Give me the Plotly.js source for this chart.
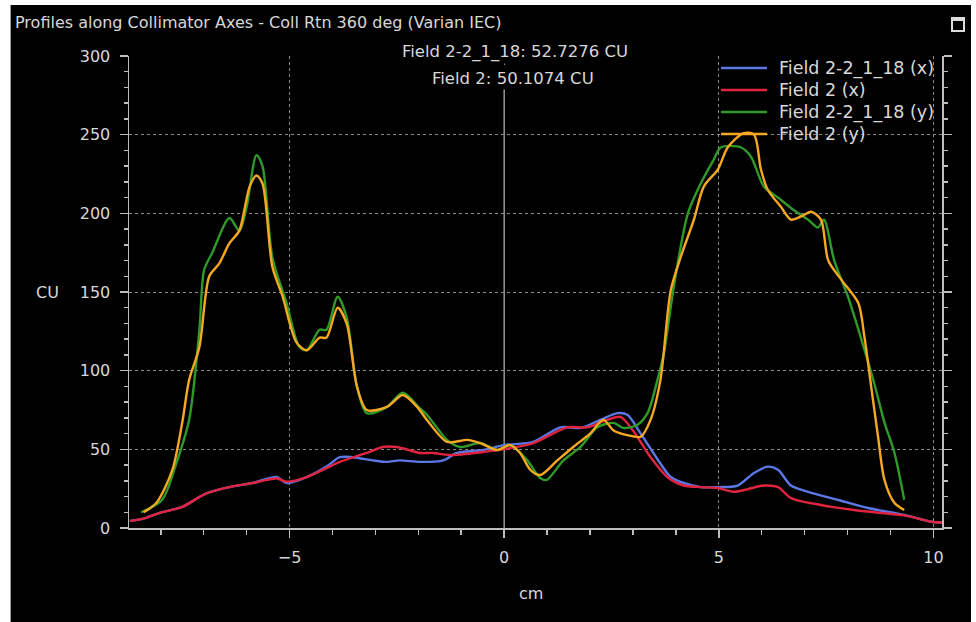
<!DOCTYPE html>
<html>
<head>
<meta charset="utf-8">
<script src="https://cdn.plot.ly/plotly-3.0.1.min.js"></script>
<style>
  html, body { margin:0; padding:0; background:#ffffff; width:976px; height:622px; overflow:hidden; }
  #plot { position:absolute; left:10px; top:5px; width:960px; height:617px; background:#000; border-left:1px solid #999; box-sizing:border-box; }
  #icon { position:absolute; left:951px; top:17px; width:10px; height:9px; border:2px solid #ddd; border-top-width:4px; }
</style>
</head>
<body>
<div id="plot"></div>
<div id="icon"></div>
<script>
// ---- data ----
const seriesNames = ["Field 2-2_1_18 (x)", "Field 2 (x)", "Field 2-2_1_18 (y)", "Field 2 (y)"];
const seriesColors = ["#5b78e6", "#e0243f", "#2f9a2a", "#f6a823"];

const xBlue = [-8.72,-8.4,-8.04,-7.5,-6.94,-6.4,-5.86,-5.3,-5.07,-4.6,-4.14,-3.83,-3.53,-3.06,-2.73,-2.43,-1.96,-1.42,-1.1,-0.49,0,0.68,1.31,1.78,2.24,2.64,2.87,3.18,3.64,3.88,4.18,4.58,4.98,5.44,5.82,6.14,6.38,6.68,7.08,7.78,8.48,9.32,9.95,10.2];
const yBlue = [4.5,6,9.5,13.4,22,26,28.6,32.4,28.6,32.4,39,45,45,43,42,43,42,43,47.7,49.6,52.7,54.7,64,63.6,68.7,73,72,60,41,32.4,28.6,26,26,27,35,39,37,27,23,17.8,12.7,8.3,4,3.5];

const xRed = [-8.72,-8.4,-8.04,-7.5,-6.94,-6.4,-5.86,-5.3,-5.07,-4.6,-4.14,-3.83,-3.2,-2.83,-2.5,-1.96,-1.66,-1.26,-0.49,0,0.68,1.47,1.94,2.4,2.71,3.0,3.41,3.8,4.18,4.58,4.98,5.35,6.05,6.38,6.68,7.38,8.15,8.8,9.32,9.95,10.2];
const yRed = [4.5,6,9.5,13.4,22,26,28.6,31.5,29.5,32.4,38,42,47.7,51.5,51.5,47.7,47.7,46.4,48.3,50.1,54,64,64,68.7,70.6,62,45,32.4,27,26,25.4,23,27,26,19,14.6,11.4,9.5,8,4,3.5];

const xGreen = [-8.46,-7.97,-7.64,-7.34,-7.1,-6.99,-6.8,-6.4,-6.17,-6.0,-5.77,-5.63,-5.4,-5.07,-4.77,-4.6,-4.3,-4.14,-3.88,-3.67,-3.43,-3.2,-2.73,-2.36,-1.96,-1.8,-1.33,-1.03,-0.56,-0.16,0.14,0.54,0.84,0.99,1.38,1.78,2.17,2.55,2.78,3.1,3.34,3.57,3.72,3.95,4.28,4.58,4.88,5.05,5.51,5.75,6.05,6.38,6.75,7.08,7.31,7.45,7.69,8.01,8.32,8.62,8.86,9.09,9.32];
const yGreen = [10,17.8,41,68.7,126,164,175,197,189,204,237,230,172,143,115,113,126,126,147,134,90,73,77,86,76,72,56,51.5,54,49.6,52.7,43,31.8,30.5,43,51.5,64,66.8,63.6,65.5,73,94,111,153,200,219,234,242,242,236,217,210,202,196,191,196,170,147,120,92,67,48,18];

const xOrange = [-8.4,-8.1,-7.73,-7.5,-7.34,-7.1,-6.87,-6.64,-6.4,-6.17,-5.93,-5.77,-5.63,-5.4,-5.16,-4.84,-4.6,-4.3,-4.14,-3.88,-3.67,-3.43,-3.2,-2.73,-2.36,-2.03,-1.8,-1.33,-0.86,-0.56,-0.16,0.14,0.37,0.61,0.84,1.24,1.61,2.0,2.31,2.55,2.87,3.18,3.41,3.64,3.88,4.11,4.42,4.65,4.98,5.21,5.58,5.82,5.98,6.14,6.45,6.68,6.92,7.15,7.38,7.55,7.85,8.25,8.39,8.55,8.71,8.86,9.09,9.32];
const yOrange = [10,16,37,67,94,115,160,168,181,189,217,224,219,166,147,118,113,121,121,140,130,90,75,77,84.5,77,68.7,54.7,56,54,49.6,52.7,47.7,37,33.7,43,51.5,60,68.7,62,59,58,68.7,94,151,172,196,217,228,242,251,250,228,215,204,196,198,201,196,170,158,143,122,90,58,30.5,16,11.4];

const cursorLabels = ["Field 2-2_1_18: 52.7276 CU", "Field 2: 50.1074 CU"];
const xTickVals = [-5, 0, 5, 10];
const yTickVals = [0, 50, 100, 150, 200, 250, 300];

const xs = [xBlue, xRed, xGreen, xOrange];
const ys = [yBlue, yRed, yGreen, yOrange];

const FONT = "'DejaVu Sans', sans-serif";
const TXT = "#d8d8d8";

// pixel helpers (window px -> paper fraction); plot area spans x 128..941, y 56..528
const PX0 = 128, PW = 813, PY0 = 528, PH = 472;
const px = v => (v - PX0) / PW;
const py = v => (PY0 - v) / PH;

const traces = seriesNames.map((n, i) => ({
  type: "scatter", mode: "lines", name: n,
  x: xs[i], y: ys[i],
  line: { color: seriesColors[i], width: 2.4, shape: "spline", smoothing: 0.8 },
  hoverinfo: "skip", showlegend: false
}));

const axisCommon = {
  showline: true, linecolor: "#bdbdbd", linewidth: 1.5,
  ticks: "outside", tickcolor: "#bdbdbd", tickwidth: 1.5, ticklen: 8,
  showgrid: true, gridcolor: "#8a8a8a", griddash: "dot", gridwidth: 1,
  zeroline: false,
  tickfont: { family: FONT, size: 16, color: TXT }
};

const shapes = [{
  type: "line", xref: "x", yref: "y", x0: 0, x1: 0, y0: 0, y1: 279,
  line: { color: "#bdbdbd", width: 1.2 }, layer: "below"
}];
const annotations = [
  { text: cursorLabels[0], xref: "paper", yref: "paper", x: px(514), y: py(52), showarrow: false,
    font: { family: FONT, size: 16.5, color: TXT }, bgcolor: "#000", xanchor: "center", yanchor: "middle" },
  { text: cursorLabels[1], xref: "paper", yref: "paper", x: px(512), y: py(78), showarrow: false,
    font: { family: FONT, size: 16.5, color: TXT }, bgcolor: "#000", xanchor: "center", yanchor: "middle" },
  { text: "CU", xref: "paper", yref: "y", x: px(46), y: 150, showarrow: false,
    font: { family: FONT, size: 16, color: TXT }, xanchor: "center", yanchor: "middle" },
  { text: "cm", xref: "paper", yref: "paper", x: px(530), y: py(593), showarrow: false,
    font: { family: FONT, size: 16, color: TXT }, xanchor: "center", yanchor: "middle" }
];
// legend drawn as line samples + labels
const legendRows = [68, 90, 112, 134];
seriesNames.forEach((n, i) => {
  shapes.push({ type: "line", xref: "paper", yref: "paper", x0: px(720), x1: px(766),
    y0: py(legendRows[i]), y1: py(legendRows[i]), line: { color: seriesColors[i], width: 2.5 } });
  annotations.push({ text: n, xref: "paper", yref: "paper", x: px(776), y: py(legendRows[i]),
    showarrow: false, xanchor: "left", yanchor: "middle",
    font: { family: FONT, size: 17.5, color: TXT } });
});

const layout = {
  width: 960, height: 617,
  paper_bgcolor: "#000000", plot_bgcolor: "#000000",
  margin: { l: 118, r: 29, t: 51, b: 94 },
  showlegend: false,
  title: {
    text: "Profiles along Collimator Axes - Coll Rtn 360 deg (Varian IEC)",
    font: { family: FONT, size: 16, color: TXT },
    xref: "container", x: 4/960, xanchor: "left",
    yref: "container", y: 1 - 17/617, yanchor: "middle"
  },
  xaxis: Object.assign({}, axisCommon, {
    range: [-8.74, 10.2],
    tickvals: xTickVals, ticktext: xTickVals.map(v => v < 0 ? "\u2212" + Math.abs(v) : String(v)),
    ticklabelstandoff: 6,
    minor: { dtick: 1, tick0: 0, ticks: "outside", ticklen: 5, tickcolor: "#bdbdbd", showgrid: false }
  }),
  yaxis: Object.assign({}, axisCommon, {
    range: [0, 300],
    tickvals: yTickVals,
    mirror: "ticks",
    ticklabelstandoff: 6,
    minor: { dtick: 10, tick0: 0, ticks: "outside", ticklen: 4, tickcolor: "#bdbdbd", showgrid: false }
  }),
  shapes: shapes,
  annotations: annotations
};

Plotly.newPlot("plot", traces, layout, { displayModeBar: false, staticPlot: true });
</script>
</body>
</html>
